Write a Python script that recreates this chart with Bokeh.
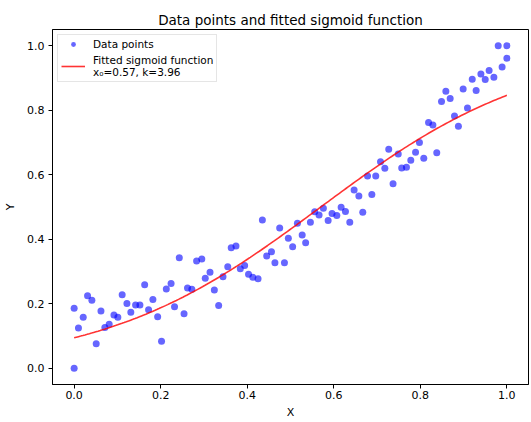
import numpy as np
from bokeh.plotting import figure
from bokeh.models import FixedTicker, Range1d, Legend, LegendItem, ColumnDataSource
from bokeh.embed import file_html
from bokeh.resources import INLINE

# ---- data ----
x_data = [0.000, 0.000, 0.010, 0.021, 0.031, 0.041, 0.051, 0.062, 0.071, 0.081,
          0.092, 0.101, 0.111, 0.122, 0.131, 0.142, 0.152, 0.163, 0.172, 0.182,
          0.193, 0.202, 0.213, 0.224, 0.232, 0.243, 0.254, 0.262, 0.272, 0.283,
          0.295, 0.303, 0.314, 0.324, 0.334, 0.344, 0.355, 0.363, 0.374, 0.384,
          0.394, 0.403, 0.413, 0.425, 0.435, 0.445, 0.456, 0.464, 0.475, 0.486,
          0.495, 0.505, 0.516, 0.527, 0.535, 0.546, 0.556, 0.566, 0.576, 0.587,
          0.596, 0.607, 0.617, 0.627, 0.637, 0.647, 0.658, 0.667, 0.678, 0.688,
          0.697, 0.708, 0.718, 0.727, 0.737, 0.749, 0.757, 0.768, 0.778, 0.789,
          0.798, 0.808, 0.819, 0.829, 0.838, 0.849, 0.859, 0.869, 0.879, 0.888,
          0.899, 0.909, 0.920, 0.929, 0.940, 0.950, 0.959, 0.970, 0.980, 0.989,
          1.000, 1.000]
y_data = [0.000, 0.186, 0.125, 0.158, 0.225, 0.211, 0.076, 0.178, 0.127, 0.137,
          0.165, 0.158, 0.228, 0.201, 0.174, 0.196, 0.196, 0.259, 0.182, 0.213,
          0.160, 0.084, 0.246, 0.263, 0.191, 0.343, 0.169, 0.249, 0.245, 0.333,
          0.339, 0.279, 0.298, 0.243, 0.195, 0.284, 0.315, 0.374, 0.379, 0.309,
          0.319, 0.292, 0.282, 0.278, 0.460, 0.348, 0.361, 0.327, 0.435, 0.327,
          0.403, 0.377, 0.450, 0.413, 0.389, 0.453, 0.485, 0.475, 0.496, 0.458,
          0.480, 0.474, 0.499, 0.486, 0.453, 0.553, 0.534, 0.484, 0.596, 0.539,
          0.596, 0.640, 0.620, 0.679, 0.572, 0.664, 0.621, 0.623, 0.645, 0.670,
          0.700, 0.651, 0.762, 0.754, 0.668, 0.827, 0.859, 0.836, 0.782, 0.750,
          0.866, 0.807, 0.896, 0.861, 0.912, 0.895, 0.923, 0.902, 1.000, 0.934,
          1.000, 0.961]

# fitted sigmoid parameters (from the legend)
x0_fit = 0.57
k_fit = 3.96

x_ticks = [0.0, 0.2, 0.4, 0.6, 0.8, 1.0]
y_ticks = [0.0, 0.2, 0.4, 0.6, 0.8, 1.0]
tick_labels = ["0.0", "0.2", "0.4", "0.6", "0.8", "1.0"]

title_text = "Data points and fitted sigmoid function"
label_points = "Data points"
label_fit = "Fitted sigmoid function\nx\u2080=0.57, k=3.96"

FONT = "DejaVu Sans"

# ---- figure ----
p = figure(width=531, height=422, output_backend="svg", toolbar_location=None,
           x_range=Range1d(-0.05, 1.05), y_range=Range1d(-0.05, 1.05),
           min_border_left=52, min_border_right=3, min_border_top=29,
           min_border_bottom=38)
p.background_fill_color = "white"
p.border_fill_color = "white"
p.outline_line_color = "black"
p.outline_line_width = 1
p.grid.visible = False

p.title.text = title_text
p.title.text_font = FONT
p.title.text_font_size = "13.5px"
p.title.text_font_style = "normal"
p.title.align = "center"
p.title.text_color = "black"
p.title.standoff = 3

for ax, ticks in ((p.xaxis[0], x_ticks), (p.yaxis[0], y_ticks)):
    ax.ticker = FixedTicker(ticks=ticks)
    ax.major_label_overrides = {t: l for t, l in zip(ticks, tick_labels)}
    ax.major_label_text_font = FONT
    ax.major_label_text_font_size = "11px"
    ax.major_label_text_color = "black"
    ax.axis_label_text_font = FONT
    ax.axis_label_text_font_size = "11px"
    ax.axis_label_text_font_style = "normal"
    ax.axis_label_text_color = "black"
    ax.axis_line_color = "black"
    ax.major_tick_line_color = "black"
    ax.major_tick_out = 4
    ax.major_tick_in = 0
    ax.minor_tick_line_color = None

p.xaxis.major_label_standoff = 2
p.xaxis.axis_label_standoff = 4
p.yaxis.major_label_standoff = 4
p.yaxis.axis_label_standoff = 7

p.xaxis.axis_label = "X"
p.yaxis.axis_label = "Y"

src = ColumnDataSource(dict(x=x_data, y=y_data))
pts = p.scatter("x", "y", source=src, size=7, fill_color="blue",
                line_color=None, fill_alpha=0.6)

xs = np.linspace(min(x_data), max(x_data), 200)
ys = 1.0 / (1.0 + np.exp(-k_fit * (xs - x0_fit)))
fit = p.line(xs, ys, line_color="red", line_alpha=0.8, line_width=1.6)

legend = Legend(items=[LegendItem(label=label_points, renderers=[pts]),
                       LegendItem(label=label_fit, renderers=[fit])],
                location="top_left")
legend.label_text_font = FONT
legend.label_text_font_size = "10.5px"
legend.label_text_color = "black"
legend.label_text_line_height = 1.5
legend.border_line_color = "#cccccc"
legend.border_line_width = 1
legend.background_fill_alpha = 0.8
legend.margin = 5
legend.padding = 3
legend.spacing = 4
legend.glyph_width = 24
legend.glyph_height = 12
legend.label_height = 12
legend.label_standoff = 8
p.add_layout(legend)

open("out.html", "w").write(file_html(p, INLINE))
